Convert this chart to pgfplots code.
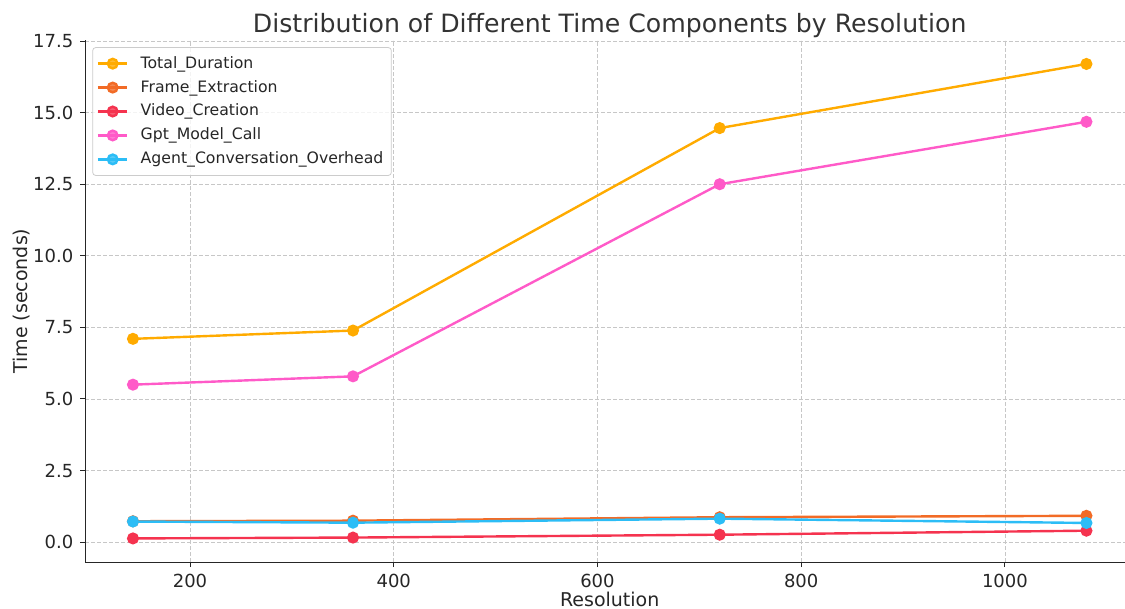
\documentclass[border=0pt]{standalone}
\usepackage{pgfplots}
\pgfplotsset{compat=1.18}
\usepackage{fontspec}
\setmainfont{DejaVu Sans}
\definecolor{ctot}{HTML}{FFAB00}
\definecolor{cfra}{HTML}{F26B26}
\definecolor{cvid}{HTML}{F5334F}
\definecolor{cgpt}{HTML}{FF5AC8}
\definecolor{cage}{HTML}{2CBDF6}
\definecolor{txt}{HTML}{262626}
\begin{document}
\begin{tikzpicture}
\begin{axis}[
  scale only axis, width=524.4pt, height=261pt,
  xmin=97.2, xmax=1126.8, ymin=-0.70, ymax=17.53,
  axis x line*=bottom, axis y line*=left,
  axis line style={color=txt, line width=0.6pt},
  xtick={200,400,600,800,1000},
  ytick={0,2.5,5,7.5,10,12.5,15,17.5},
  xticklabel style={/pgf/number format/1000 sep={}},
  yticklabel style={/pgf/number format/.cd, fixed, fixed zerofill, precision=1},
  /pgf/number format/assume math mode=true,
  tick align=outside, major tick length=2.5pt,
  tick style={color=txt, line width=0.5pt},
  ticklabel style={font=\fontsize{9}{10}\selectfont, color=txt},
  grid=major, grid style={dash pattern=on 2pt off 1pt, color=black!22, line width=0.4pt},
  every axis title shift=0pt,
  title={Distribution of Different Time Components by Resolution},
  title style={at={(axis description cs:0.5,1)}, anchor=base, yshift=4pt, font=\fontsize{12.6}{15}\selectfont, color=black!80},
  xlabel={Resolution}, ylabel={Time (seconds)},
  xlabel style={at={(axis description cs:0.5,0)}, anchor=base, yshift=-22pt, font=\fontsize{9.5}{11}\selectfont, color=txt},
  ylabel style={at={(axis description cs:-0.0553,0.5)}, anchor=base, font=\fontsize{9.5}{11}\selectfont, color=txt},
  legend style={at={(axis description cs:0,1)}, anchor=north west, xshift=3.5pt, yshift=-3.5pt,
    draw=black!20, rounded corners=1.5pt, fill=white, fill opacity=0.8, text opacity=1,
    font=\fontsize{7.85}{9}\selectfont, text=txt, row sep=0.5pt, inner xsep=2pt, inner ysep=2.3pt,
    /tikz/every odd column/.append style={column sep=4pt}},
  legend cell align=left,
  legend image code/.code={\draw[mark repeat=2,mark phase=2] plot coordinates {(0cm,0cm)(0.26cm,0cm)(0.52cm,0cm)};},
  every axis plot/.append style={line width=1.2pt, mark=*, mark size=2.4pt},
]
\addplot[color=ctot, mark options={fill=ctot}] coordinates {(144,7.10) (360,7.39) (720,14.46) (1080,16.70)};
\addlegendentry{Total\_Duration}
\addplot[color=cfra, mark options={fill=cfra}] coordinates {(144,0.73) (360,0.75) (720,0.87) (1080,0.92)};
\addlegendentry{Frame\_Extraction}
\addplot[color=cvid, mark options={fill=cvid}] coordinates {(144,0.13) (360,0.16) (720,0.26) (1080,0.40)};
\addlegendentry{Video\_Creation}
\addplot[color=cgpt, mark options={fill=cgpt}] coordinates {(144,5.50) (360,5.79) (720,12.50) (1080,14.68)};
\addlegendentry{Gpt\_Model\_Call}
\addplot[color=cage, mark options={fill=cage}] coordinates {(144,0.72) (360,0.68) (720,0.82) (1080,0.67)};
\addlegendentry{Agent\_Conversation\_Overhead}
\end{axis}
\pgfresetboundingbox
\path (-42.65pt,-23.15pt) rectangle (519.85pt,281.1pt);
\end{tikzpicture}
\end{document}
